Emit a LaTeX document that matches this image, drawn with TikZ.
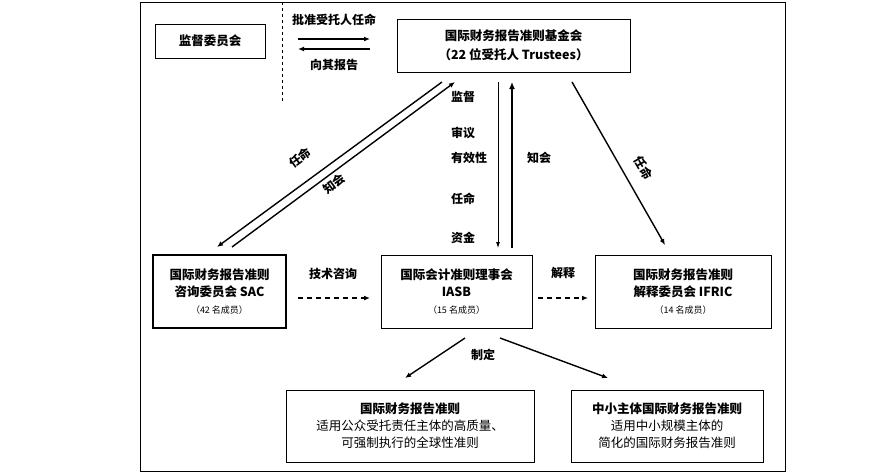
\documentclass[tikz,border=0pt]{standalone}
\usepackage{fontspec}
\setmainfont{Noto Sans CJK SC}
\usetikzlibrary{arrows.meta}
\tikzset{
  box/.style={draw,line width=0.8pt,align=center,inner sep=0pt},
  thin box/.style={draw,line width=0.6pt,align=center,inner sep=0pt},
  arr/.style={line width=1.4pt,-{Latex[length=6pt,width=5pt]}},
  darr/.style={line width=1.6pt,dashed,dash pattern=on 5pt off 4pt,-{Latex[length=6pt,width=5pt]}},
  lbl/.style={font=\fontsize{12}{14}\selectfont\bfseries,inner sep=1pt},
  small/.style={font=\fontsize{10}{13}\selectfont}
}
\begin{document}
\begin{tikzpicture}[x=1pt,y=1pt,yscale=-1]
\useasboundingbox (0,0) rectangle (893,474);
\fontsize{12.5}{17}\selectfont
% frame
\draw[line width=0.8pt] (140,2) rectangle (785,471);
\draw[dashed,line width=0.8pt] (282,2) -- (282,103);

% boxes
\node[box,minimum width=110pt,minimum height=34pt] (oversight) at (210,41) {\bfseries 监督委员会};
\node[thin box,minimum width=233pt,minimum height=53pt] (found) at (513.5,45.5)
  {\bfseries 国际财务报告准则基金会\\[2pt]\bfseries （22 位受托人 Trustees）};
\node[box,line width=1.2pt,minimum width=133pt,minimum height=73pt] (sac) at (219.5,291.5)
  {\bfseries 国际财务报告准则\\\bfseries 咨询委员会 SAC\\{\small（42 名成员）}};
\node[thin box,minimum width=151pt,minimum height=73pt] (iasb) at (456.5,291.5)
  {\bfseries 国际会计准则理事会\\\bfseries IASB\\{\small（15 名成员）}};
\node[thin box,minimum width=176pt,minimum height=73pt] (ifric) at (683,291.5)
  {\bfseries 国际财务报告准则\\\bfseries 解释委员会 IFRIC\\{\small（14 名成员）}};
\node[thin box,minimum width=248pt,minimum height=72pt] (ifrs) at (410,426)
  {\bfseries 国际财务报告准则\\适用公众受托责任主体的高质量、\\可强制执行的全球性准则};
\node[thin box,minimum width=192pt,minimum height=72pt] (sme) at (667,426)
  {\bfseries 中小主体国际财务报告准则\\适用中小规模主体的\\简化的国际财务报告准则};

% oversight <-> foundation
\draw[arr] (298,39) -- (370,39);
\draw[arr] (370,49) -- (298,49);
\node[lbl] at (334,20) {批准受托人任命};
\node[lbl] at (334,65) {向其报告};

% foundation <-> IASB
\draw[line width=0.8pt,-{Latex[length=6pt,width=4pt]}] (498,82) -- (498,248);
\draw[line width=2pt,-{Latex[length=7pt,width=6pt]}] (512,248) -- (512,82);
\node[lbl,anchor=west] at (450,97) {监督};
\node[lbl,anchor=west] at (450,133) {审议};
\node[lbl,anchor=west] at (450,158) {有效性};
\node[lbl,anchor=west] at (450,199) {任命};
\node[lbl,anchor=west] at (450,238) {资金};
\node[lbl] at (539,158) {知会};

% foundation <-> SAC
\draw[arr] (442,82) -- (217,247);
\draw[arr] (232,247) -- (455,82);
\node[lbl,rotate=36] at (300,158) {任命};
\node[lbl,rotate=36] at (334,184) {知会};
% foundation -> IFRIC
\draw[arr] (572,82) -- (665,245);
\node[lbl,rotate=-60] at (644,168) {任命};

% SAC, IFRIC
\draw[darr] (298,298) -- (370,298);
\node[lbl] at (333,274) {技术咨询};
\draw[darr] (538,298) -- (588,298);
\node[lbl] at (563,273) {解释};

% IASB -> standards
\draw[arr] (465,338) -- (405,378);
\draw[arr] (500,338) -- (608,378);
\node[lbl] at (483,355) {制定};
\end{tikzpicture}
\end{document}
